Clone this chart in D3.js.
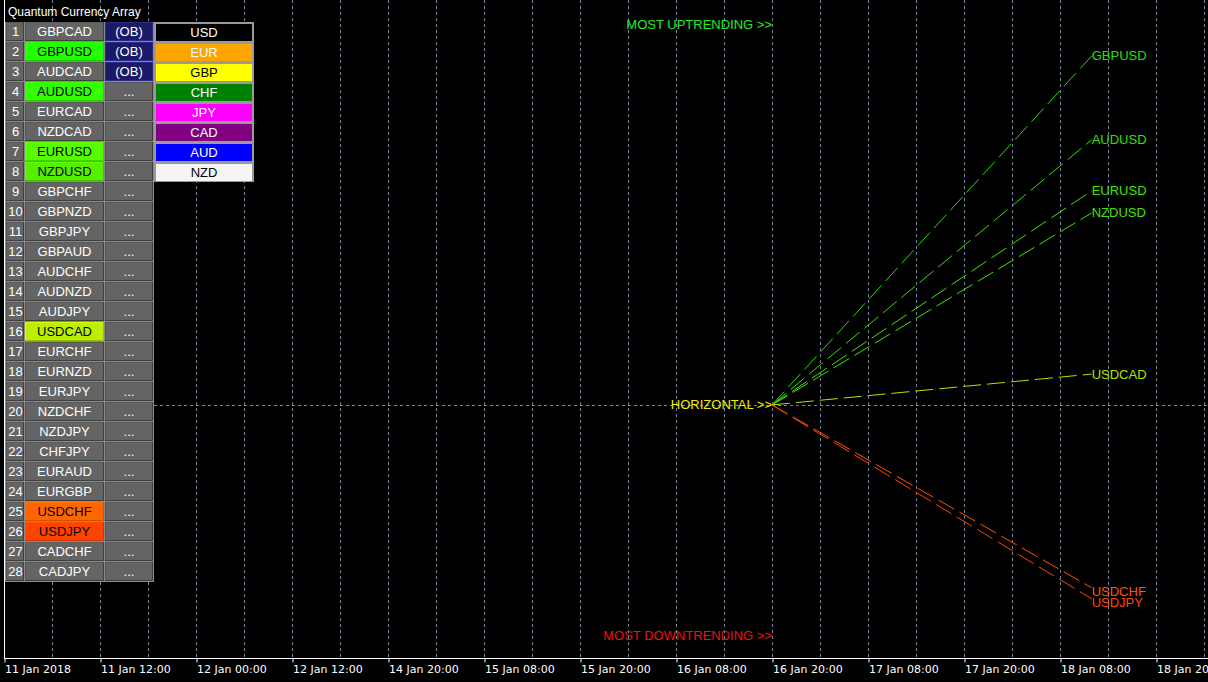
<!DOCTYPE html>
<html>
<head>
<meta charset="utf-8">
<script src="https://cdn.jsdelivr.net/npm/d3@7"></script>
<style>
html,body{margin:0;padding:0;background:#000;}
svg{display:block;}
</style>
</head>
<body>
<script>
// ---------- DATA ----------
const tickLabels = ["11 Jan 2018","11 Jan 12:00","12 Jan 00:00","12 Jan 12:00","14 Jan 20:00","15 Jan 08:00","15 Jan 20:00","16 Jan 08:00","16 Jan 20:00","17 Jan 08:00","17 Jan 20:00","18 Jan 08:00","18 Jan 20:00"];
const pairs = ["GBPCAD","GBPUSD","AUDCAD","AUDUSD","EURCAD","NZDCAD","EURUSD","NZDUSD","GBPCHF","GBPNZD","GBPJPY","GBPAUD","AUDCHF","AUDNZD","AUDJPY","USDCAD","EURCHF","EURNZD","EURJPY","NZDCHF","NZDJPY","CHFJPY","EURAUD","EURGBP","USDCHF","USDJPY","CADCHF","CADJPY"];
const statuses = ["(OB)","(OB)","(OB)","...","...","...","...","...","...","...","...","...","...","...","...","...","...","...","...","...","...","...","...","...","...","...","...","..."];
const highlightPairs = ["GBPUSD","AUDUSD","EURUSD","NZDUSD","USDCAD","USDCHF","USDJPY"];
const highlightColors = ["#22ff00","#33ff00","#55ff00","#55f000","#bbee00","#ff6600","#ff4400"];
const currencies = ["USD","EUR","GBP","CHF","JPY","CAD","AUD","NZD"];
const currencyFills = ["#000000","#ffa500","#ffff00","#008000","#ff00ff","#800080","#0000ff","#f5f5f5"];
const currencyText = ["#ffffff","#ffffff","#000000","#ffffff","#ffffff","#ffffff","#ffffff","#000000"];
const trendPairs = ["GBPUSD","AUDUSD","EURUSD","NZDUSD","USDCAD","USDCHF","USDJPY"];
const trendValues = [91.6, 69.6, 56.2, 50.4, 8.1, -48.0, -50.9];
const trendColors = ["#22e000","#33e000","#44e000","#44e000","#b8e000","#ff5500","#ff4400"];
const lineStartBar = 8;
const lineEndBar = 11.33;
const levelLabels = ["MOST UPTRENDING >>","HORIZONTAL >>","MOST DOWNTRENDING >>"];
const levelValues = [100, 0, -60.4];
const levelColors = ["#22ee22","#eeee00","#ee1111"];

// ---------- SETUP ----------
const W = 1208, H = 682;
const svg = d3.select("body").append("svg").attr("width", W).attr("height", H)
  .style("background", "#000");

const x = d3.scaleLinear().domain([0, 12]).range([4, 1156]);
const y = d3.scaleLinear().domain([-60.4, 100]).range([635, 24]);
const axisY = 658;
const gridColor = "#76869a";

// grid vertical (every half tick)
const gridVals = d3.range(0.5, 12.6, 0.5);
svg.append("g").selectAll("line").data(gridVals).join("line")
  .attr("x1", d => Math.round(x(d)) + 0.5).attr("x2", d => Math.round(x(d)) + 0.5)
  .attr("y1", 0).attr("y2", axisY)
  .attr("stroke", gridColor).attr("stroke-width", 1).attr("stroke-dasharray", "3,3");

// horizontal zero line
svg.append("line")
  .attr("x1", 4).attr("x2", W)
  .attr("y1", Math.round(y(0)) + 0.5).attr("y2", Math.round(y(0)) + 0.5)
  .attr("stroke", gridColor).attr("stroke-width", 1).attr("stroke-dasharray", "3,3");

// left border
svg.append("line").attr("x1", 4.5).attr("x2", 4.5).attr("y1", 0).attr("y2", axisY)
  .attr("stroke", "#ffffff").attr("stroke-width", 1);

// x axis
const axis = d3.axisBottom(x).tickValues(d3.range(0, 13)).tickFormat(i => tickLabels[i])
  .tickSize(4).tickSizeOuter(0);
const gAxis = svg.append("g").attr("transform", `translate(0.5,${axisY + 0.5})`).call(axis);
gAxis.select(".domain").remove();
gAxis.selectAll(".tick line").attr("stroke", "#fff");
gAxis.selectAll(".tick text").attr("fill", "#fff")
  .attr("font-family", "'DejaVu Sans', sans-serif").attr("font-size", 11)
  .attr("text-anchor", "start").attr("x", 0).attr("dy", "0.4em").attr("y", 10.5);
svg.append("line").attr("x1", 4).attr("x2", W).attr("y1", axisY + 0.5).attr("y2", axisY + 0.5)
  .attr("stroke", "#fff").attr("stroke-width", 1);

// level labels
svg.append("g").selectAll("text").data(levelLabels).join("text")
  .attr("x", x(lineStartBar)).attr("y", (d, i) => y(levelValues[i]))
  .attr("text-anchor", "end").attr("dominant-baseline", "central")
  .attr("font-family", "'Liberation Sans', Arial, sans-serif").attr("font-size", 13)
  .attr("fill", (d, i) => levelColors[i]).text(d => d);

// trend lines
const gTrend = svg.append("g");
gTrend.selectAll("line").data(trendPairs).join("line")
  .attr("x1", x(lineStartBar)).attr("y1", y(0))
  .attr("x2", x(lineEndBar)).attr("y2", (d, i) => y(trendValues[i]))
  .attr("stroke", (d, i) => trendColors[i]).attr("stroke-width", 1)
  .attr("stroke-dasharray", "18,6");
gTrend.selectAll("text").data(trendPairs).join("text")
  .attr("x", x(lineEndBar)).attr("y", (d, i) => y(trendValues[i]) + (trendValues[i] < 0 ? 4 : 0))
  .attr("dominant-baseline", "central")
  .attr("font-family", "'Liberation Sans', Arial, sans-serif").attr("font-size", 13)
  .attr("fill", (d, i) => trendColors[i]).text(d => d);

// ---------- TABLE ----------
const font = "'Liberation Sans', Arial, sans-serif";
const rowTop = 22, rowH = 20;
const cols = [{x: 6, w: 18}, {x: 25, w: 79}, {x: 105, w: 48}];
const tbl = svg.append("g");

tbl.append("text").attr("x", 8).attr("y", 12).attr("dominant-baseline", "central")
  .attr("font-family", font).attr("font-size", 12).attr("fill", "#fff")
  .text("Quantum Currency Array");

// table background
tbl.append("rect").attr("x", 5).attr("y", rowTop).attr("width", 149).attr("height", rowH * pairs.length)
  .attr("fill", "#8a8a8a");

function cell(g, cx, cy, w, h, fill, light, dark) {
  g.append("rect").attr("x", cx).attr("y", cy).attr("width", w).attr("height", h).attr("fill", fill);
  g.append("path").attr("d", `M${cx + 0.5},${cy + h}V${cy + 0.5}H${cx + w}`)
    .attr("fill", "none").attr("stroke", light).attr("stroke-width", 1);
  g.append("path").attr("d", `M${cx},${cy + h - 0.5}H${cx + w - 0.5}V${cy}`)
    .attr("fill", "none").attr("stroke", dark).attr("stroke-width", 1);
}

pairs.forEach((p, i) => {
  const ry = rowTop + i * rowH;
  const ty = ry + 9.5;
  const g = tbl.append("g");
  // number
  cell(g, cols[0].x, ry, cols[0].w, rowH - 1, "#646464", "#5a5a5a", "#3e3e3e");
  g.append("text").attr("x", cols[0].x + cols[0].w / 2 + 0.5).attr("y", ty)
    .attr("text-anchor", "middle").attr("dominant-baseline", "central")
    .attr("font-family", font).attr("font-size", 13).attr("fill", "#fff").text(i + 1);
  // pair
  const hi = highlightPairs.indexOf(p);
  const pf = hi >= 0 ? highlightColors[hi] : "#646464";
  cell(g, cols[1].x, ry, cols[1].w, rowH - 1, pf,
       hi >= 0 ? d3.color(pf).brighter(0.4).formatHex() : "#5a5a5a",
       hi >= 0 ? d3.color(pf).darker(0.6).formatHex() : "#3e3e3e");
  g.append("text").attr("x", cols[1].x + cols[1].w / 2).attr("y", ty)
    .attr("text-anchor", "middle").attr("dominant-baseline", "central")
    .attr("font-family", font).attr("font-size", 13).attr("fill", hi >= 0 ? "#000" : "#fff").text(p);
  // status
  const ob = statuses[i] === "(OB)";
  cell(g, cols[2].x, ry, cols[2].w, rowH - 1, ob ? "#1a1a66" : "#646464",
       ob ? "#2a2a88" : "#5a5a5a", ob ? "#2a2a88" : "#3e3e3e");
  g.append("text").attr("x", cols[2].x + cols[2].w / 2).attr("y", ty)
    .attr("text-anchor", "middle").attr("dominant-baseline", "central")
    .attr("font-family", font).attr("font-size", 13).attr("fill", "#fff").text(statuses[i]);
});

// currency column
currencies.forEach((c, i) => {
  const ry = rowTop + i * rowH;
  const g = tbl.append("g");
  g.append("rect").attr("x", 154).attr("y", ry).attr("width", 100).attr("height", rowH).attr("fill", "#9a9a9a");
  g.append("rect").attr("x", 156).attr("y", ry + 2).attr("width", 96).attr("height", rowH - 3)
    .attr("fill", currencyFills[i]);
  g.append("text").attr("x", 204).attr("y", ry + 10)
    .attr("text-anchor", "middle").attr("dominant-baseline", "central")
    .attr("font-family", font).attr("font-size", 13).attr("fill", currencyText[i]).text(c);
});
</script>
</body>
</html>
